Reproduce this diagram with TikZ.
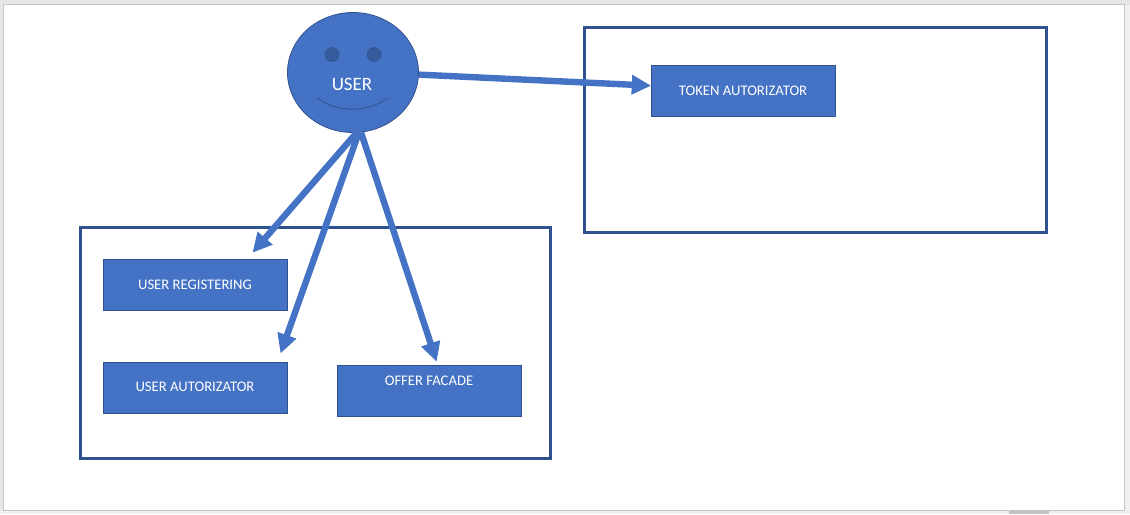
\documentclass[tikz,border=0pt]{standalone}
\usepackage{fontspec}
\setmainfont{Carlito}
\usetikzlibrary{arrows.meta}
\definecolor{fillblue}{HTML}{4472C4}
\definecolor{edgeblue}{HTML}{2F528F}
\definecolor{eyeblue}{HTML}{365B9D}
\definecolor{chrome}{HTML}{E6E6E6}
\definecolor{chromeline}{HTML}{C4C4C4}
\definecolor{strip}{HTML}{F0F0F0}
\definecolor{thumb}{HTML}{C2C2C2}
\tikzset{
  box/.style={draw=edgeblue,fill=fillblue,line width=0.6pt,text=white,font=\fontsize{11pt}{13pt}\selectfont,inner sep=0pt,minimum width=138pt,minimum height=38.25pt},
  boxtext/.style={text=white,font=\fontsize{11pt}{13pt}\selectfont,inner sep=0pt},
  frame/.style={draw=edgeblue,line width=2pt,fill=none},
  arrowline/.style={draw=fillblue,line width=4.8pt,-{Triangle[length=14.5pt,width=14pt]}},
}
\begin{document}
\begin{tikzpicture}[x=0.75pt,y=-0.75pt]
\useasboundingbox (0,0) rectangle (1130,514);
\fill[chrome] (0,0) rectangle (1130,514);
\fill[strip] (0,511) rectangle (1130,514);
\fill[thumb] (1009,511) rectangle (1049,514);
\fill[strip] (1125,5) rectangle (1130,511);
\draw[chromeline,fill=white,line width=0.9pt] (3.5,4.5) rectangle (1124.5,510.5);
% frames
\draw[frame] (584.5,27.5) rectangle (1046.5,232.5);
\draw[frame] (80.5,227.5) rectangle (550.5,458.5);
% boxes
\node[box] (token) at (743.5,91) {};
\node[boxtext] (tokenlabel) at (743,90.5) {TOKEN AUTORIZATOR};
\node[box] (reg) at (195.5,285) {};
\node[boxtext] (reglabel) at (195,285) {USER REGISTERING};
\node[box] (auth) at (195.5,388) {};
\node[boxtext] (authlabel) at (195,387) {USER AUTORIZATOR};
\node[box] (offer) at (429.5,391) {};
\node[boxtext] (offerlabel) at (429,380.5) {OFFER FACADE};
% face
\node[circle,draw=edgeblue,fill=fillblue,line width=0.6pt,inner sep=0pt,xscale=1.31,yscale=1.2,minimum size=75pt] (user) at (353,72.5) {};
\node[text=white,font=\fontsize{14.2pt}{16pt}\selectfont,inner sep=0pt] (userlabel) at (352,84.3) {USER};
\fill[eyeblue,draw=edgeblue,line width=0.4pt] (332,54.5) circle[radius=7];
\fill[eyeblue,draw=edgeblue,line width=0.4pt] (374,54.5) circle[radius=7];
\draw[edgeblue,line width=0.6pt] (317,98) .. controls (338,113) and (367,113) .. (388,98);
% arrows
\coordinate (t2) at (252.5,252.7);
\coordinate (t3) at (280.5,353.5);
\coordinate (t4) at (436.7,361.7);
\draw[arrowline] (user.-2) -- ([yshift=4pt]token.west);
\draw[arrowline] (user.-87) -- (t2);
\draw[arrowline] (user.-85) -- (t3);
\draw[arrowline] (user.-83) -- (t4);
\end{tikzpicture}
\end{document}
